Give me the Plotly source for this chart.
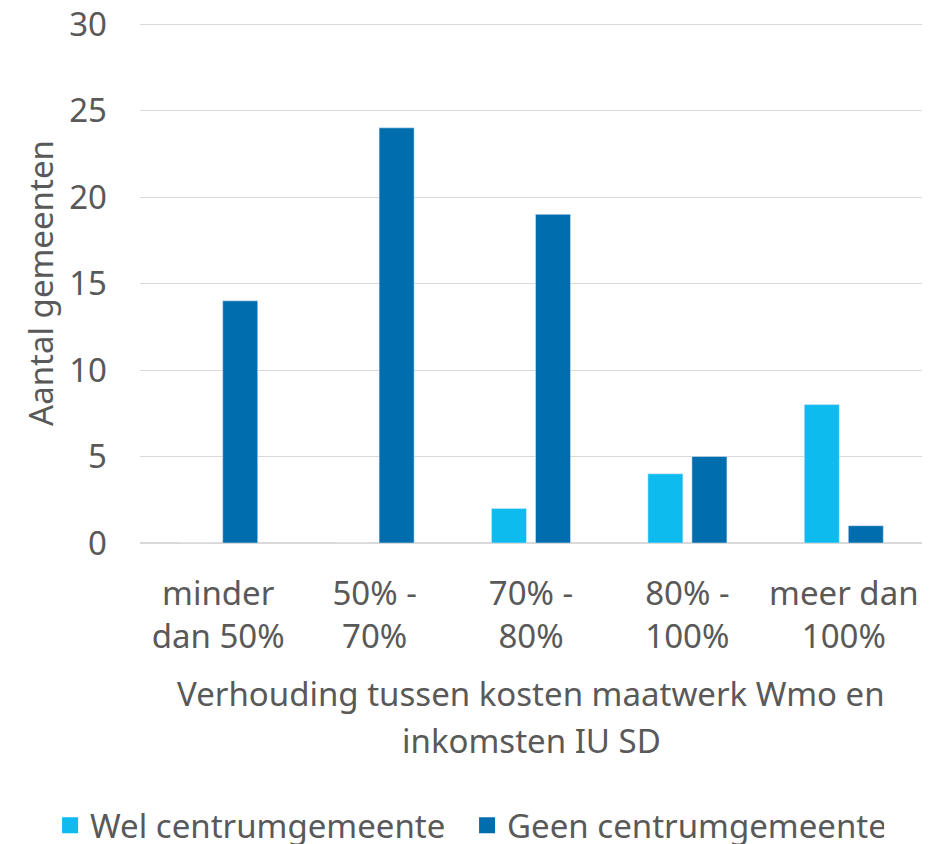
import plotly.graph_objects as go

categories = ["minder<br>dan 50%", "50% -<br>70%", "70% -<br>80%", "80% -<br>100%", "meer dan<br>100%"]
wel_values = [0, 0, 2, 4, 8]
geen_values = [14, 24, 19, 5, 1]
series_names = ["Wel centrumgemeente", "Geen centrumgemeente"]
series_colors = ["#0DBBEF", "#006EAE"]
y_ticks = [0, 5, 10, 15, 20, 25, 30]
x_title_lines = ["Verhouding tussen kosten maatwerk Wmo en", "inkomsten IU SD"]
y_title = "Aantal gemeenten"

FONT = "'Noto Sans', 'Open Sans', sans-serif"
TXT = "#595959"
FS = 33

fig = go.Figure()
for name, vals, col in zip(series_names, [wel_values, geen_values], series_colors):
    fig.add_trace(go.Bar(x=categories, y=vals, name=name, marker_color=col, showlegend=False))
# legend entries with larger square swatches
for name, col in zip(series_names, series_colors):
    fig.add_trace(go.Scatter(x=[None], y=[None], mode="markers", name=name,
                             marker=dict(symbol="square", size=22, color=col)))

annotations = [
    dict(text=x_title_lines[0], xref="paper", yref="paper", x=0.5, y=-0.2425, xanchor="center",
         yanchor="top", showarrow=False, font=dict(size=FS, color=TXT)),
    dict(text=x_title_lines[1], xref="paper", yref="paper", x=0.5, y=-0.3335, xanchor="center",
         yanchor="top", showarrow=False, font=dict(size=FS, color=TXT)),
    dict(text=y_title, xref="paper", yref="paper", x=-0.128, y=0.5, xanchor="center",
         yanchor="middle", textangle=-90, showarrow=False, font=dict(size=FS, color=TXT)),
]

# page body has an 8px default margin, so the figure is sized to fit the window
fig.update_layout(
    width=922, height=836,
    margin=dict(l=132, r=8, t=15, b=301, autoexpand=False),
    paper_bgcolor="white", plot_bgcolor="white",
    barmode="group", bargap=0.437, bargroupgap=0.2045,
    font=dict(family=FONT, size=FS, color=TXT),
    showlegend=True,
    legend=dict(orientation="h", x=-0.115, xanchor="left", y=-0.489, yanchor="top",
                font=dict(size=FS, color=TXT), itemwidth=30, traceorder="normal",
                entrywidth=372, entrywidthmode="pixels"),
    annotations=annotations,
)
fig.update_yaxes(range=[0, 30.06], tickvals=y_ticks, showgrid=True, gridcolor="#D9D9D9", gridwidth=1.3,
                 zeroline=True, zerolinecolor="#D9D9D9", zerolinewidth=1.5, showline=False,
                 ticks="", ticklabelstandoff=32, automargin=False, ticklabeloverflow="allow")
fig.update_xaxes(showgrid=False, showline=False, ticks="", ticklabelstandoff=28, automargin=False,
                 ticklabeloverflow="allow")

fig.write_html("out.html")
